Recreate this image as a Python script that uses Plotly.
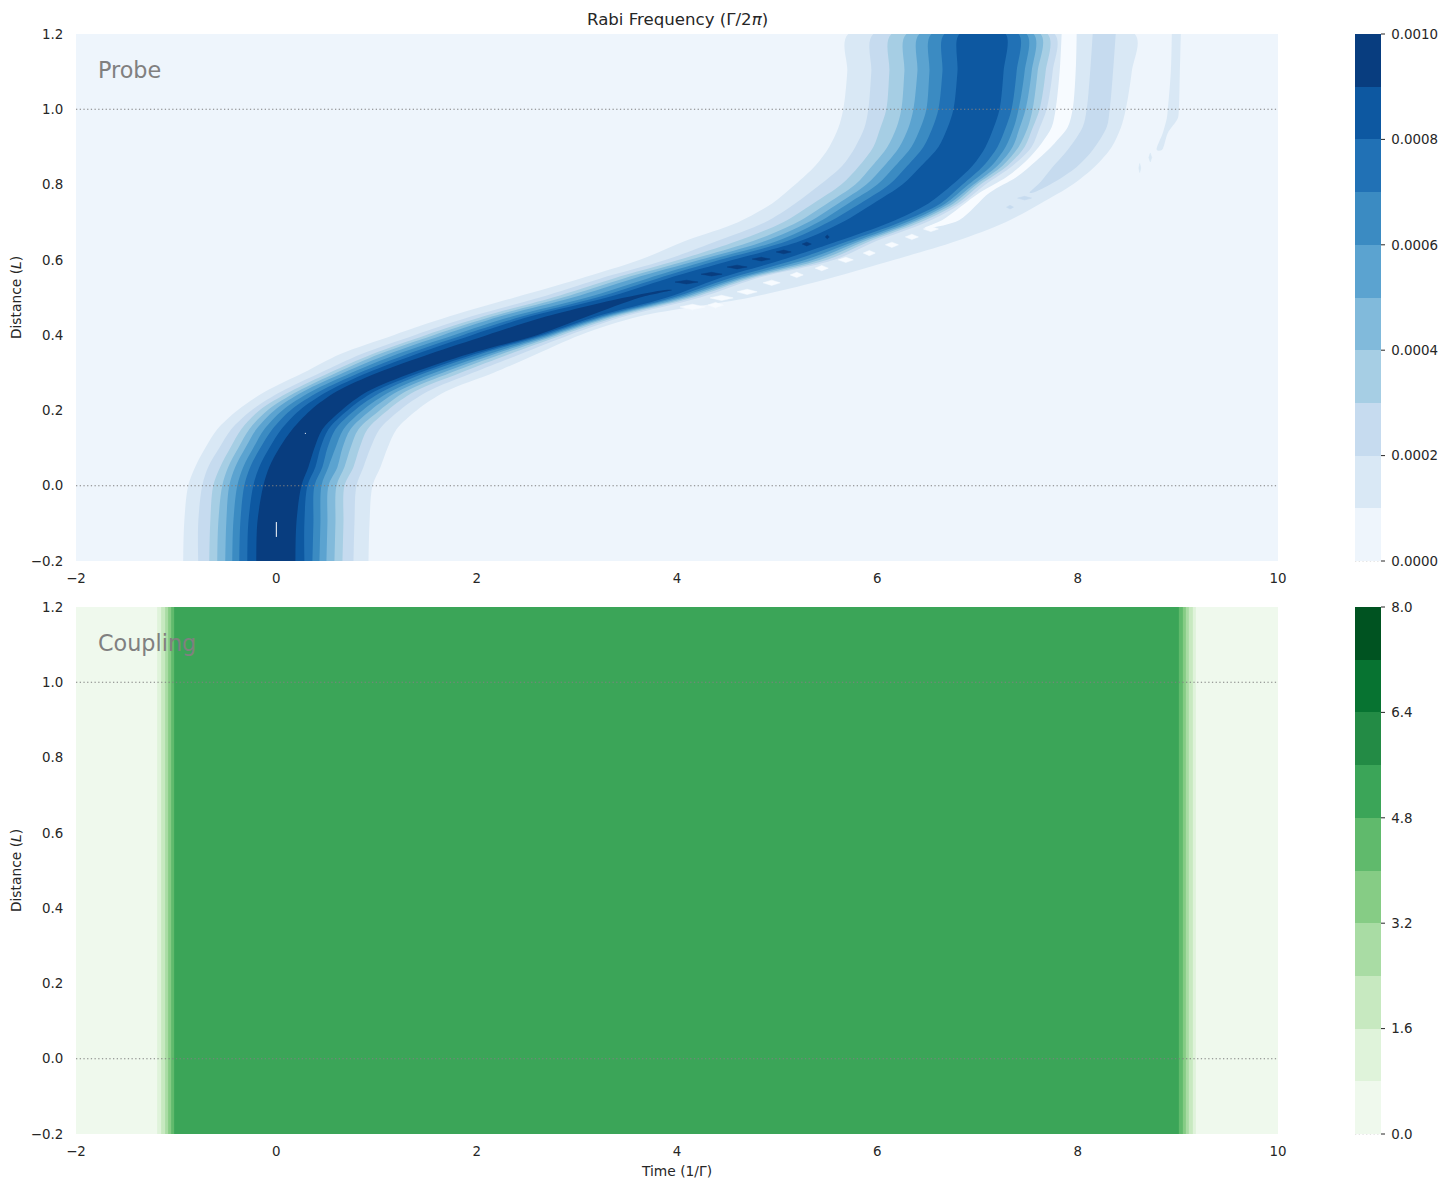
import plotly.graph_objects as go

# ---- data ----
distance_rows = [-0.2, -0.1, 0.0, 0.05, 0.1, 0.15, 0.2, 0.25, 0.3, 0.35, 0.4, 0.45, 0.5,
                 0.55, 0.6, 0.65, 0.7, 0.75, 0.8, 0.85, 0.9, 0.95, 1.0, 1.1, 1.2]

# Probe: times at which each contour level is crossed on the rising side
rise_1 = [-0.93,-0.92,-0.88,-0.81,-0.71,-0.59,-0.39,-0.11,0.27,0.64,1.17,1.73,2.38,3.03,3.63,4.08,4.61,4.95,5.18,5.38,5.52,5.61,5.66,5.70,5.71]
rise_2 = [-0.78,-0.78,-0.74,-0.68,-0.57,-0.45,-0.25,0.05,0.44,0.85,1.38,1.95,2.63,3.23,3.89,4.40,4.88,5.18,5.43,5.65,5.78,5.87,5.91,5.94,5.96]
rise_3 = [-0.67,-0.66,-0.63,-0.56,-0.46,-0.35,-0.17,0.14,0.53,0.96,1.49,2.07,2.76,3.36,4.02,4.60,5.06,5.36,5.64,5.82,5.96,6.03,6.09,6.12,6.14]
rise_4 = [-0.59,-0.58,-0.54,-0.48,-0.38,-0.27,-0.09,0.21,0.60,1.03,1.57,2.16,2.86,3.46,4.13,4.76,5.20,5.50,5.78,5.95,6.10,6.19,6.24,6.27,6.29]
rise_5 = [-0.51,-0.50,-0.47,-0.41,-0.31,-0.20,-0.02,0.27,0.67,1.12,1.66,2.24,2.96,3.56,4.23,4.88,5.31,5.61,5.89,6.07,6.22,6.31,6.36,6.40,6.42]
rise_6 = [-0.44,-0.43,-0.39,-0.33,-0.23,-0.12,0.06,0.35,0.75,1.21,1.77,2.36,3.10,3.70,4.33,5.00,5.41,5.71,6.00,6.18,6.34,6.43,6.49,6.52,6.54]
rise_7 = [-0.37,-0.36,-0.32,-0.26,-0.16,-0.04,0.14,0.43,0.83,1.31,1.86,2.46,3.20,3.80,4.43,5.10,5.51,5.83,6.12,6.30,6.46,6.55,6.61,6.65,6.67]
rise_8 = [-0.29,-0.28,-0.23,-0.17,-0.07,0.05,0.23,0.51,0.91,1.40,1.95,2.54,3.30,3.90,4.56,5.23,5.65,5.96,6.25,6.44,6.61,6.70,6.76,6.80,6.82]

# ... and on the falling side
fall_1 = [0.92,0.93,0.96,1.04,1.11,1.20,1.40,1.69,2.17,2.60,3.03,3.63,4.73,5.51,6.17,6.79,7.28,7.63,7.95,8.18,8.34,8.43,8.48,8.54,8.57]
fall_2 = [0.77,0.78,0.80,0.87,0.94,1.03,1.23,1.51,1.96,2.44,2.92,3.48,4.23,4.78,5.57,5.99,6.49,6.84,7.08,7.35,7.54,7.62,7.69,7.75,7.77]
fall_3 = [0.66,0.67,0.68,0.77,0.83,0.91,1.11,1.38,1.84,2.33,2.85,3.42,4.16,4.73,5.50,5.93,6.43,6.80,7.03,7.30,7.47,7.55,7.62,7.68,7.70]
fall_4 = [0.58,0.59,0.60,0.68,0.74,0.82,1.03,1.29,1.74,2.25,2.80,3.37,4.11,4.68,5.43,5.88,6.38,6.76,6.99,7.25,7.41,7.50,7.55,7.60,7.63]
fall_5 = [0.50,0.51,0.52,0.61,0.66,0.74,0.94,1.21,1.66,2.18,2.76,3.33,4.06,4.63,5.36,5.83,6.34,6.72,6.96,7.20,7.35,7.42,7.48,7.54,7.56]
fall_6 = [0.43,0.44,0.45,0.52,0.59,0.67,0.86,1.14,1.58,2.12,2.72,3.29,4.01,4.58,5.28,5.78,6.29,6.68,6.91,7.14,7.28,7.36,7.41,7.47,7.49]
fall_7 = [0.36,0.37,0.38,0.46,0.51,0.59,0.78,1.06,1.49,2.04,2.68,3.25,3.96,4.51,5.18,5.71,6.23,6.63,6.85,7.06,7.20,7.28,7.34,7.39,7.41]
fall_8 = [0.28,0.28,0.31,0.39,0.44,0.52,0.71,0.98,1.43,1.98,2.64,3.20,3.90,4.41,5.05,5.61,6.13,6.51,6.75,6.95,7.08,7.16,7.22,7.26,7.28]

# Top level exists only in the lower part
top_rows = [-0.2,-0.1,0.0,0.05,0.1,0.15,0.2,0.25,0.3,0.35,0.4,0.45,0.5,0.52]
top_rise = [-0.20,-0.19,-0.13,-0.07,0.03,0.16,0.34,0.60,1.01,1.53,2.10,2.70,3.48,3.88]
top_fall = [0.19,0.20,0.25,0.32,0.38,0.46,0.65,0.91,1.36,1.92,2.60,3.11,3.63,3.95]

# Broken pieces of the top level
dash_start = [3.98,4.24,4.50,4.75,4.99,5.25,5.48]
dash_end = [4.21,4.45,4.70,4.93,5.14,5.34,5.52]
dash_distance = [0.541,0.562,0.581,0.602,0.621,0.642,0.661]

# Pale gap behind the main pulse
gap_rows = [1.2,1.1,1.0,0.952,0.91,0.864,0.82,0.778,0.706,0.685]
gap_rise = [7.84,7.82,7.78,7.74,7.64,7.49,7.29,7.02,6.65,6.47]
gap_fall = [7.99,7.98,7.95,7.90,7.77,7.59,7.39,7.12,6.82,6.52]

# Pale patches along the tail
patch_start = [6.46,6.28,6.08,5.86,5.61,5.38,5.13,4.86,4.60,4.33,4.31,4.03]
patch_end = [6.61,6.41,6.21,5.98,5.76,5.51,5.26,5.03,4.80,4.56,4.46,4.28]
patch_distance = [0.682,0.661,0.64,0.618,0.60,0.578,0.56,0.539,0.515,0.499,0.48,0.475]

# Second lobe, second level
lobe_rows = [1.2,1.0,0.953,0.892,0.847,0.804,0.778]
lobe_rise = [8.15,8.09,8.05,7.90,7.75,7.62,7.52]
lobe_fall = [8.38,8.32,8.29,8.15,7.99,7.75,7.55]
blob_start = [7.40,7.29]
blob_end = [7.54,7.36]
blob_distance = [0.764,0.74]

# Third lobe, first level
third_rows = [1.2,1.1,1.0,0.976,0.937,0.892]
third_rise = [8.94,8.93,8.90,8.89,8.85,8.79]
third_fall = [9.03,9.02,9.01,9.00,8.90,8.84]
speck_start = [8.71,8.61]
speck_end = [8.74,8.63]
speck_distance = [0.872,0.844]

# Small holes in the top level
hole_time = [0.0,0.0]
hole_distance = [-0.0965,-0.136]
dot_time = [0.285,0.295]
dot_distance = [0.139,0.139]

probe_levels = [0.0, 0.001, 0.0001]
probe_ticks = [0.0, 0.0002, 0.0004, 0.0006, 0.0008, 0.001]
probe_colors = ['#eef5fc','#d9e8f5','#c6dbef','#a6cee4','#81badb','#5ba3d0','#3b8bc2','#2171b5','#0d58a1','#083d7f']
pale_color = '#f7fbff'

# Coupling
coupling_time = [-2,-1.25,-1.19,-1.15,-1.11,-1.08,-1.05,-1.02,-0.95,8.95,9.01,9.05,9.08,9.11,9.15,9.18,9.25,10]
coupling_value = [0.0,0.0,0.8,1.6,2.4,3.2,4.0,4.8,5.0,5.0,4.8,4.0,3.2,2.4,1.6,0.8,0.0,0.0]
coupling_distance = [-0.2,1.2]
coupling_levels = [0.0, 8.0, 0.8]
coupling_ticks = [0.0,1.6,3.2,4.8,6.4,8.0]
coupling_colors = ['#eff9ed','#dff3da','#c7e9c0','#a9dca4','#86cc85','#60ba6c','#3ba558','#238b45','#077331','#005321']

reference_distances = [0.0, 1.0]
x_ticks = [-2,0,2,4,6,8,10]
y_ticks = [-0.2,0.0,0.2,0.4,0.6,0.8,1.0,1.2]

# ---- styles ----
FONT = 'DejaVu Sans'
INK = '#262626'
GREY = '#808080'
DOT = '1.3px,2.4px'
TICK = 13.4
LABEL = 13.8
BAR_LEN = 527 / 1100
BAR_X0, BAR_X1 = (1355 - 76) / 1202, (1381 - 76) / 1202
BAR_TICK_X1 = (1385 - 76) / 1202
TOP_BASE = 573 / 1100

def scale(colors):
    n = len(colors)
    return [[(i + 0.5) / n, c] for i, c in enumerate(colors)]

def extend(sc):
    return [[0, sc[0][1]]] + sc + [[1, sc[-1][1]]]

def band(rows, rise, fall, color):
    return go.Scatter(x=list(rise) + list(fall)[::-1], y=list(rows) + list(rows)[::-1],
                      mode='lines', fill='toself', fillcolor=color,
                      line=dict(width=0, color=color, shape='spline', smoothing=0.9), hoverinfo='skip',
                      showlegend=False, xaxis='x', yaxis='y')

def lenses(starts, ends, dists, color, half):
    xs, ys = [], []
    for a, b, d in zip(starts, ends, dists):
        m = (a + b) / 2
        xs += [a, m, b, m, a, None]
        ys += [d, d + half, d, d - half, d, None]
    return go.Scatter(x=xs, y=ys, mode='lines', fill='toself', fillcolor=color,
                      line=dict(color=color, width=0.5),
                      hoverinfo='skip', showlegend=False, xaxis='x', yaxis='y')

fig = go.Figure()

def cbar(y0, ticks, fmt):
    return dict(x=BAR_X0, xanchor='left', xpad=0, ypad=0, y=y0, yanchor='bottom',
                len=BAR_LEN, lenmode='fraction', thickness=26, thicknessmode='pixels',
                outlinewidth=0, borderwidth=0, tickmode='array', tickvals=ticks,
                tickformat=fmt, ticks='outside', ticklen=8, tickwidth=1, tickcolor='rgba(0,0,0,0)',
                tickfont=dict(family=FONT, size=TICK, color=INK))

fig.add_trace(go.Contour(x=[-2, 10], y=[-0.2, 1.2], z=[[0, 0], [0, 0]],
                         zmin=0, zmax=0.001, autocontour=False,
                         contours=dict(start=probe_levels[0], end=probe_levels[1], size=probe_levels[2], coloring='fill', showlines=False),
                         line=dict(width=0), colorscale=extend(scale(probe_colors)),
                         colorbar=cbar(TOP_BASE, probe_ticks, '.4f'),
                         hoverinfo='skip', xaxis='x', yaxis='y'))

fig.add_trace(band(distance_rows, rise_1, fall_1, probe_colors[1]))
fig.add_trace(band(gap_rows, gap_rise, gap_fall, pale_color))
fig.add_trace(lenses(patch_start, patch_end, patch_distance, pale_color, 0.007))
fig.add_trace(band(lobe_rows, lobe_rise, lobe_fall, probe_colors[2]))
fig.add_trace(lenses(blob_start, blob_end, blob_distance, probe_colors[2], 0.005))
fig.add_trace(band(third_rows, third_rise, third_fall, probe_colors[1]))
fig.add_trace(lenses(speck_start, speck_end, speck_distance, probe_colors[1], 0.012))
rises = [rise_2, rise_3, rise_4, rise_5, rise_6, rise_7, rise_8]
falls = [fall_2, fall_3, fall_4, fall_5, fall_6, fall_7, fall_8]
for i, (r, f) in enumerate(zip(rises, falls)):
    fig.add_trace(band(distance_rows, r, f, probe_colors[i + 2]))
fig.add_trace(band(top_rows, top_rise, top_fall, probe_colors[9]))
fig.add_trace(lenses(dash_start, dash_end, dash_distance, probe_colors[9], 0.005))
fig.add_trace(go.Scatter(x=hole_time, y=hole_distance, mode='lines', line=dict(color='white', width=1),
                         hoverinfo='skip', showlegend=False, xaxis='x', yaxis='y'))
fig.add_trace(go.Scatter(x=dot_time, y=dot_distance, mode='lines', line=dict(color='white', width=1),
                         hoverinfo='skip', showlegend=False, xaxis='x', yaxis='y'))

fig.add_trace(go.Contour(x=coupling_time, y=coupling_distance, z=[coupling_value, coupling_value],
                         zmin=0, zmax=8, autocontour=False,
                         contours=dict(start=coupling_levels[0], end=coupling_levels[1], size=coupling_levels[2], coloring='fill', showlines=False),
                         line=dict(width=0), colorscale=extend(scale(coupling_colors)),
                         colorbar=cbar(0, coupling_ticks, '.1f'),
                         hoverinfo='skip', xaxis='x2', yaxis='y2'))

shapes = []
for ax_x, ax_y in (('x', 'y'), ('x2', 'y2')):
    for d in reference_distances:
        shapes.append(dict(type='line', xref=f'{ax_x} domain', yref=ax_y, x0=0, x1=1, y0=d, y1=d,
                           line=dict(color=GREY, width=1.1, dash=DOT), layer='above'))
# dotted mark at distance 1 on the coupling colour bar (value 1.0 of 8), and faint ones at zero
shapes.append(dict(type='line', xref='paper', yref='paper', x0=BAR_X0, x1=BAR_X1,
                   y0=BAR_LEN * reference_distances[1] / coupling_ticks[-1],
                   y1=BAR_LEN * reference_distances[1] / coupling_ticks[-1],
                   line=dict(color=GREY, width=1.1, dash=DOT)))
for yy in (0, TOP_BASE):
    shapes.append(dict(type='line', xref='paper', yref='paper', x0=BAR_X0, x1=BAR_X1, y0=yy, y1=yy,
                       line=dict(color='#c9c9c9', width=1, dash=DOT)))
# colour bar tick marks, separated from their labels as in the reference
for base, ticks in ((TOP_BASE, probe_ticks), (0, coupling_ticks)):
    for v in ticks:
        yy = base + BAR_LEN * v / ticks[-1]
        shapes.append(dict(type='line', xref='paper', yref='paper', x0=BAR_X1, x1=BAR_TICK_X1, y0=yy, y1=yy,
                           line=dict(color=INK, width=1)))

def xaxis(domain_anchor, labelled):
    d = dict(domain=[0, 1], range=[-2, 10], tickmode='array', tickvals=x_ticks, showgrid=False,
             zeroline=False, showline=False, ticks='outside', ticklen=5, tickcolor='rgba(0,0,0,0)',
             tickfont=dict(family=FONT, size=TICK, color=INK), anchor=domain_anchor)
    if labelled:
        d['title'] = dict(text='Time (1/Γ)', font=dict(family=FONT, size=LABEL, color=INK), standoff=8)
    return d

def yaxis(domain, anchor):
    return dict(domain=domain, range=[-0.2, 1.2], tickmode='array', tickvals=y_ticks, tickformat='.1f',
                showgrid=False, zeroline=False, showline=False, ticks='outside', ticklen=9,
                tickcolor='rgba(0,0,0,0)', tickfont=dict(family=FONT, size=TICK, color=INK), anchor=anchor,
                title=dict(text='Distance (<i>L</i>)', font=dict(family=FONT, size=LABEL, color=INK), standoff=7))

# the page adds an 8 px body margin, so the figure is 16 px smaller than the window
fig.update_layout(
    width=1432, height=1173, margin=dict(l=68, r=162, t=26, b=47, pad=0, autoexpand=False),
    paper_bgcolor='white', plot_bgcolor='white', shapes=shapes, showlegend=False,
    font=dict(family=FONT, color=INK),
    xaxis=xaxis('y', False), yaxis=yaxis([TOP_BASE, 1], 'x'),
    xaxis2=xaxis('y2', True), yaxis2=yaxis([0, BAR_LEN], 'x2'),
    annotations=[
        dict(text='Rabi Frequency (Γ/2<i>π</i>)', xref='x domain', yref='paper', x=0.5, y=1, yanchor='bottom',
             yshift=3, showarrow=False, font=dict(family=FONT, size=16.6, color=INK)),
        dict(text='Probe', xref='x', yref='y', x=-1.80, y=1.104, xanchor='left', yanchor='middle',
             showarrow=False, font=dict(family=FONT, size=22.3, color=GREY)),
        dict(text='Coupling', xref='x2', yref='y2', x=-1.80, y=1.104, xanchor='left', yanchor='middle',
             showarrow=False, font=dict(family=FONT, size=22.3, color=GREY)),
    ])

fig.write_html('out.html')
